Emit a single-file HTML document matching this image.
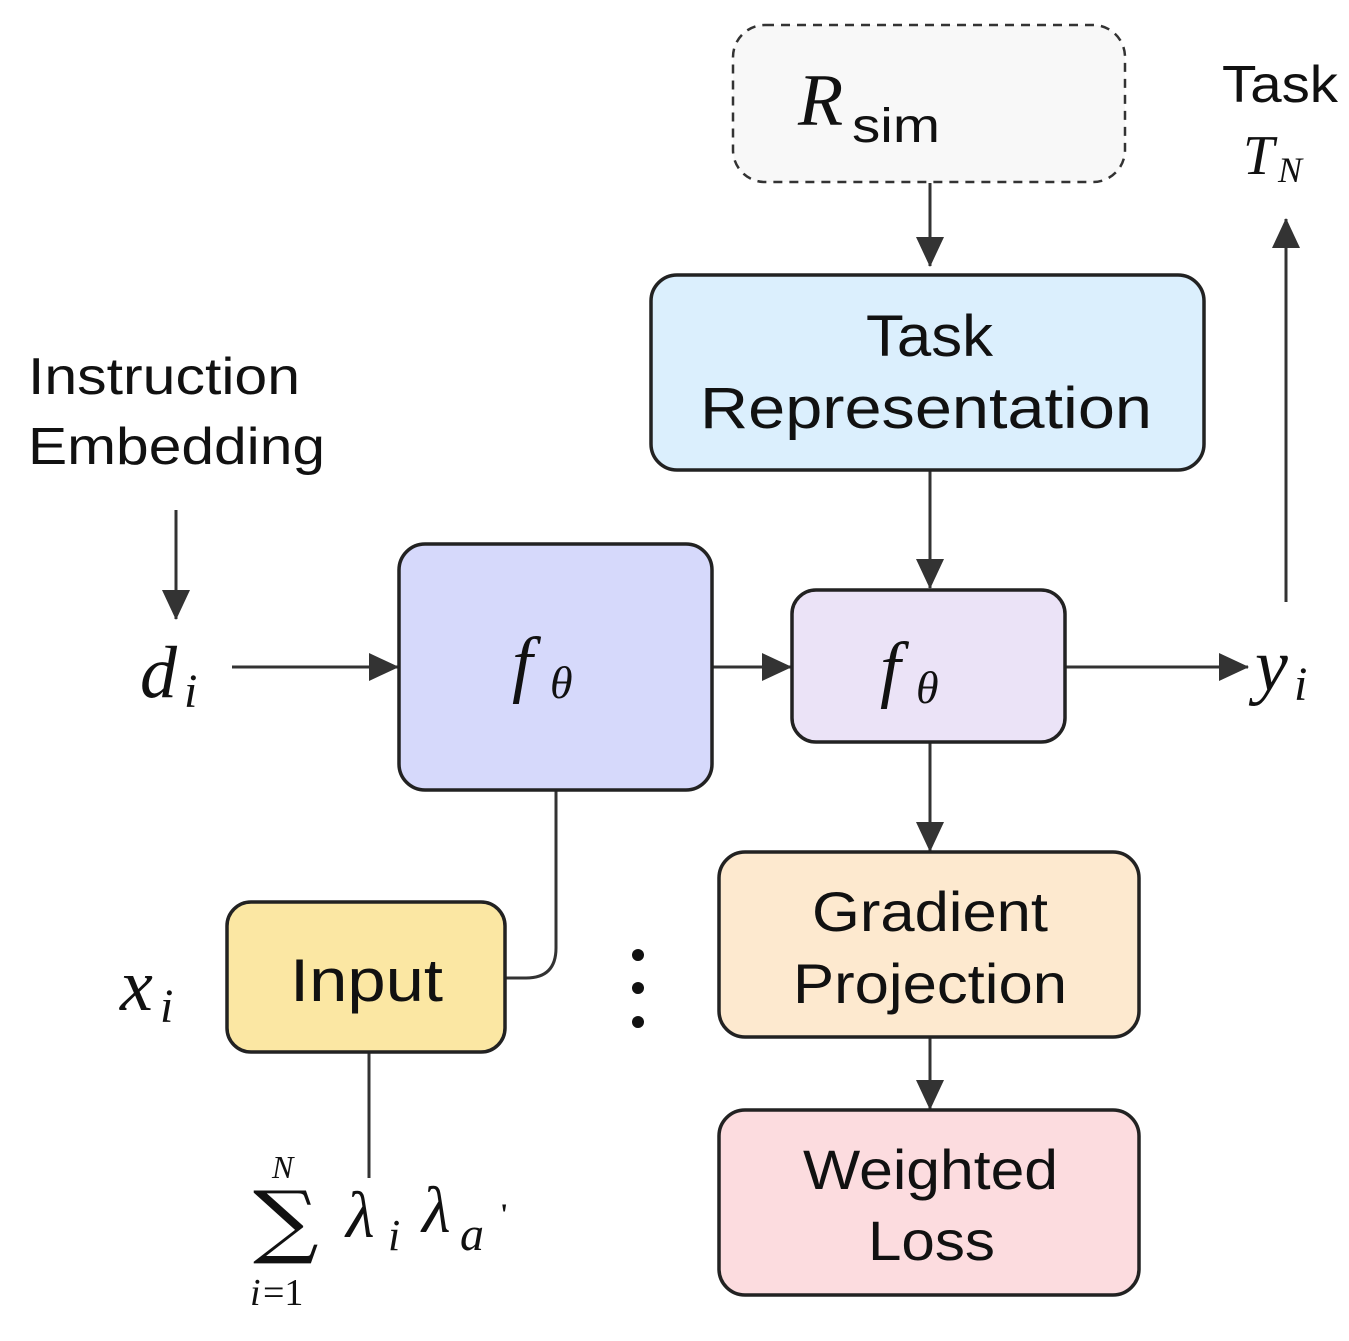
<!DOCTYPE html>
<html><head><meta charset="utf-8"><style>
html,body{margin:0;padding:0;background:#fff;}
svg{display:block;}
.s{font-family:"Liberation Sans",sans-serif;fill:#111;}
.m{font-family:"Liberation Serif","DejaVu Serif",serif;font-style:italic;fill:#111;}
</style></head><body>
<svg width="1349" height="1341" viewBox="0 0 1349 1341" xmlns="http://www.w3.org/2000/svg">
<defs>
<marker id="b" markerWidth="30" markerHeight="28" refX="29" refY="14" orient="auto" markerUnits="userSpaceOnUse"><path d="M0,0 L30,14 L0,28 z" fill="#333"/></marker></defs>
<g stroke="#333" stroke-width="3" fill="none">
<line x1="930" y1="183" x2="930" y2="266" marker-end="url(#b)"/>
<line x1="1286" y1="602" x2="1286" y2="219" marker-end="url(#b)"/>
<line x1="176" y1="510" x2="176" y2="619" marker-end="url(#b)"/>
<line x1="232" y1="667" x2="398" y2="667" marker-end="url(#b)"/>
<line x1="712" y1="667" x2="791" y2="667" marker-end="url(#b)"/>
<line x1="930" y1="470" x2="930" y2="588" marker-end="url(#b)"/>
<line x1="1065" y1="667" x2="1248" y2="667" marker-end="url(#b)"/>
<line x1="930" y1="742" x2="930" y2="851" marker-end="url(#b)"/>
<line x1="930" y1="1037" x2="930" y2="1109" marker-end="url(#b)"/>
<path d="M556,790 L556,948 Q556,978 526,978 L505,978"/>
<line x1="369" y1="1052" x2="369" y2="1178"/>
</g>
<rect x="733" y="25" width="392" height="157" rx="32" fill="#f8f8f8" stroke="#333" stroke-width="2.5" stroke-dasharray="9,7"/>
<g stroke="#222" stroke-width="3.5">
<rect x="651" y="275" width="553" height="195" rx="26" fill="#dbeffd"/>
<rect x="399" y="544" width="313" height="246" rx="26" fill="#d6d9fb"/>
<rect x="792" y="590" width="273" height="152" rx="24" fill="#ebe3f7"/>
<rect x="719" y="852" width="420" height="185" rx="26" fill="#fde9cf"/>
<rect x="719" y="1110" width="420" height="185" rx="26" fill="#fcdcdf"/>
<rect x="227" y="902" width="278" height="150" rx="24" fill="#fbe7a3"/>
</g>
<text class="m" x="798" y="125" font-size="74">R</text>
<text class="s" x="852" y="142" font-size="48" textLength="88" lengthAdjust="spacingAndGlyphs">sim</text>
<text class="s" x="1222" y="102" font-size="52" textLength="116" lengthAdjust="spacingAndGlyphs">Task</text>
<text class="m" x="1243" y="174" font-size="56">T</text>
<text class="m" x="1278" y="182" font-size="36">N</text>
<text class="s" x="866" y="356" font-size="58" textLength="127" lengthAdjust="spacingAndGlyphs">Task</text>
<text class="s" x="700" y="428" font-size="58" textLength="452" lengthAdjust="spacingAndGlyphs">Representation</text>
<text class="s" x="28" y="394" font-size="52" textLength="272" lengthAdjust="spacingAndGlyphs">Instruction</text>
<text class="s" x="28" y="464" font-size="52" textLength="297" lengthAdjust="spacingAndGlyphs">Embedding</text>
<text class="m" x="140" y="697" font-size="74">d</text>
<text class="m" x="184" y="707" font-size="48">i</text>
<text class="m" x="512" y="688" font-size="74">f</text>
<text class="m" x="550" y="698" font-size="46">θ</text>
<text class="m" x="880" y="693" font-size="74">f</text>
<text class="m" x="916" y="703" font-size="46">θ</text>
<text class="m" x="1255" y="690" font-size="74">y</text>
<text class="m" x="1294" y="700" font-size="48">i</text>
<text class="s" x="812" y="931" font-size="56" textLength="236" lengthAdjust="spacingAndGlyphs">Gradient</text>
<text class="s" x="793" y="1003" font-size="56" textLength="274" lengthAdjust="spacingAndGlyphs">Projection</text>
<text class="s" x="803" y="1189" font-size="56" textLength="255" lengthAdjust="spacingAndGlyphs">Weighted</text>
<text class="s" x="868" y="1260" font-size="56" textLength="127" lengthAdjust="spacingAndGlyphs">Loss</text>
<text class="s" x="290" y="1001" font-size="60" textLength="153" lengthAdjust="spacingAndGlyphs">Input</text>
<text class="m" x="120" y="1010" font-size="74">x</text>
<text class="m" x="160" y="1022" font-size="48">i</text>
<circle cx="638" cy="955" r="6" fill="#111"/>
<circle cx="638" cy="988" r="6" fill="#111"/>
<circle cx="638" cy="1022" r="6" fill="#111"/>
<text class="m" x="272" y="1178" font-size="32">N</text>
<text x="0" y="0" font-size="80" font-family="'DejaVu Serif',serif" fill="#111" transform="translate(253,1248) scale(1.15,1)">∑</text>
<text class="m" x="250" y="1305" font-size="38">i</text>
<text x="263" y="1305" font-size="38" font-family="'Liberation Serif',serif" fill="#111">=1</text>
<text class="m" x="346" y="1237" font-size="66">λ</text>
<text class="m" x="388" y="1250" font-size="44">i</text>
<text class="m" x="422" y="1232" font-size="66">λ</text>
<text class="m" x="460" y="1250" font-size="48">a</text>
<text x="500" y="1224" font-size="30" font-family="'Liberation Serif',serif" font-weight="bold" fill="#111">'</text>
</svg>
</body></html>
